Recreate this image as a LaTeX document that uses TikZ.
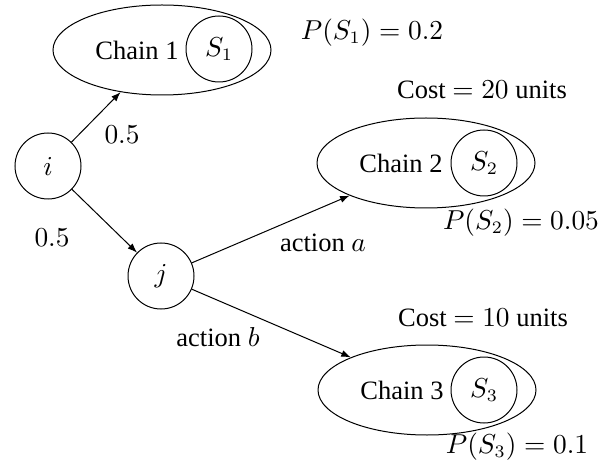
\documentclass[tikz,border=0pt]{standalone}
\usepackage[no-math]{fontspec}
\setmainfont{Liberation Serif}
\usetikzlibrary{shapes.geometric,arrows.meta}
\tikzset{
  state/.style={draw,circle,minimum size=26.4pt,inner sep=0pt},
  chainbox/.style={draw,ellipse,minimum width=87.2pt,minimum height=36pt,inner sep=0pt},
}
\begin{document}
\begin{tikzpicture}[x=0.4pt,y=-0.4pt,>={Latex[length=3.8pt,width=2.8pt]},
    every node/.style={font=\fontsize{10.6}{12.7}\selectfont}]
    \useasboundingbox (0,0) rectangle (612,465);
    % decision points
    \node[state] (i) at (48,166) {$i$};
    \node[state] (j) at (161,276) {$j$};
    % chains with their states
    \node[chainbox] (c1) at (162,50) {};
    \node (t1) at (137,50) {Chain 1};
    \node[state] (s1) at (219,49) {$S_1$};
    \node[chainbox] (c2) at (426,163) {};
    \node (t2) at (401,163) {Chain 2};
    \node[state] (s2) at (484,163) {$S_2$};
    \node[chainbox] (c3) at (427,390) {};
    \node (t3) at (402,390) {Chain 3};
    \node[state] (s3) at (484,390) {$S_3$};
    % transitions
    \draw[->] (i) -- (c1);
    \draw[->] (i) -- (j);
    \draw[->] (j) -- (c2);
    \draw[->] (j) -- (c3);
    \node (p1) at (122,135) {$0.5$};
    \node (p2) at (52,238) {$0.5$};
    \node (a) at (323,243) {action $a$};
    \node (b) at (218,337) {action $b$};
    % costs and probabilities
    \node (ps1) at (372,33) {$P(S_1) = 0.2$};
    \node (k2) at (482,90) {Cost $= 20$ units};
    \node (ps2) at (521,223) {$P(S_2) = 0.05$};
    \node (k3) at (483,318) {Cost $= 10$ units};
    \node (ps3) at (517,447) {$P(S_3) = 0.1$};
\end{tikzpicture}
\end{document}
